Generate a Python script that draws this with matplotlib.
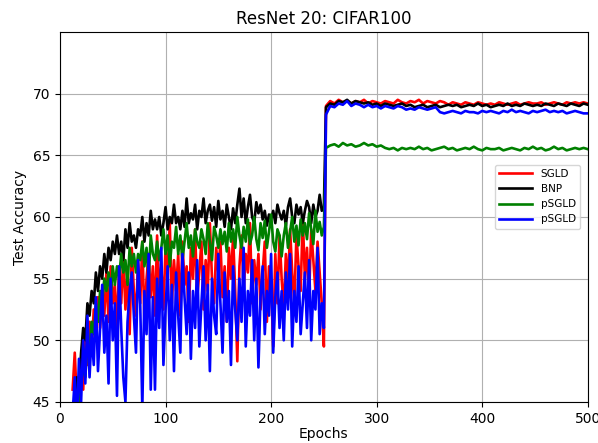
import numpy as np
import matplotlib
matplotlib.use("Agg")
import matplotlib.pyplot as plt

# epochs: every 2nd epoch before the step at 250, every 4th after
early_epochs = np.arange(12, 251, 2)
late_epochs = np.arange(252, 501, 4)

sgld_early = [46, 49, 45, 47, 48.5, 46, 50.5, 48, 51.5, 49,
              52.5, 50, 53.5, 51, 54, 52, 55.5, 51.5, 56, 53,
              54.5, 51, 56, 53, 57, 52.5, 55.5, 50.5, 57.5, 54,
              52, 56.5, 53, 58, 51.5, 55, 57, 53.5, 56, 52,
              58.5, 54, 56, 52.5, 57.5, 55, 59.5, 53, 56.5, 54,
              57, 52, 58, 54.5, 56, 51.5, 57.5, 55, 59, 53.5,
              55.5, 58, 52.5, 56.5, 54, 59.5, 55, 53, 57.5, 55.5,
              58, 53.5, 56, 51.5, 57.5, 55, 58.5, 54, 48.3, 56,
              58.5, 54, 57, 55.5, 59.5, 53, 56.5, 54.5, 57, 52.5,
              55.5, 58, 51.5, 56, 54.5, 49.5, 57, 53, 58.5, 55,
              52.5, 57, 54.5, 59, 55.5, 53, 58.5, 56, 54, 60,
              55, 57.5, 53.5, 59, 56.5, 54, 58, 55.5, 53, 49.5]
sgld_late = [69.0, 69.4, 69.2, 69.5, 69.3, 69.4, 69.2, 69.4, 69.3, 69.5,
             69.2, 69.4, 69.3, 69.2, 69.4, 69.3, 69.2, 69.5, 69.3, 69.2,
             69.4, 69.3, 69.5, 69.2, 69.4, 69.3, 69.2, 69.4, 69.3, 69.1,
             69.3, 69.2, 69.1, 69.3, 69.2, 69.1, 69.3, 69.2, 69.1, 69.2,
             69.1, 69.3, 69.2, 69.1, 69.2, 69.3, 69.1, 69.2, 69.3, 69.2,
             69.2, 69.3, 69.1, 69.2, 69.3, 69.2, 69.1, 69.3, 69.2, 69.3,
             69.2, 69.3, 69.2]

bnp_early = [44, 45.5, 47, 46, 49, 51, 50, 53, 52, 54,
             53, 55.5, 54, 56, 55, 57, 55.5, 57.5, 56.5, 58,
             57, 58.5, 57, 58, 56.5, 59, 57.5, 59.5, 58, 58.5,
             57.5, 59, 58.5, 60, 58, 59.5, 58.5, 60.5, 59, 59.8,
             59, 60, 58.5, 59.5, 60.8, 59, 60, 59.5, 61, 59.5,
             60, 59, 60.5, 59.2, 61.5, 59.5, 60.3, 59.8, 61, 59,
             60.5, 60, 61.5, 59.5, 60.5, 61, 59.7, 60.8, 59.2, 61.3,
             59.8, 60.5, 59.2, 61, 60, 59, 60.7, 59.5, 61, 62.3,
             60, 61.5, 59.5, 60.8, 61.8, 60, 59.5, 61.2, 60.3, 61,
             59.8, 60.5, 59.3, 60.2, 59.8, 60.5, 59.5, 61, 60.3, 59.8,
             60.5, 59.3, 60.8, 61.5, 60, 59.5, 61, 60.2, 60.8, 59.5,
             60.5, 61.3, 60.8, 59.5, 61, 60, 60.5, 61.8, 60.5, 60.8]
bnp_late = [68.9, 69.2, 69.1, 69.4, 69.3, 69.5, 69.2, 69.4, 69.3, 69.2,
            69.3, 69.1, 69.2, 69.0, 69.2, 69.1, 69.0, 69.1, 69.2, 69.0,
            69.1, 68.9, 69.0, 69.1, 68.9, 69.0, 69.1, 68.9, 69.0, 69.1,
            69.0, 69.1, 68.9, 69.0, 69.1, 69.0, 69.2, 69.0, 69.1, 68.9,
            69.0, 69.1, 69.0, 69.2, 69.0, 69.1, 69.0, 69.2, 69.1, 69.0,
            69.1, 69.0, 69.2, 69.1, 69.0, 69.2, 69.1, 69.0, 69.2, 69.1,
            69.0, 69.2, 69.1]

psgld_g_early = [43, 44, 45.5, 44, 46.5, 48, 47, 50, 49, 51.5,
                 50.5, 53, 51.5, 54, 53, 55, 54, 55.5, 53.5, 56,
                 54.5, 56, 55, 57, 55.5, 56.5, 54.5, 57.5, 56, 57,
                 55.5, 57, 56.5, 58, 56, 57.5, 55, 58.5, 57, 56.5,
                 58, 56.5, 57.5, 59, 57, 58.5, 56, 58, 57.5, 59.2,
                 57, 58.5, 56.5, 58, 59.5, 57.5, 58.5, 56.8, 59, 58,
                 57.5, 59, 58.2, 57, 59.5, 58, 56.5, 59.2, 58.5, 57.5,
                 59, 57.8, 58.8, 57.2, 59.5, 58, 59, 57.5, 60, 58.5,
                 57.5, 59.2, 58, 59.8, 57.8, 58.5, 60, 58.2, 57.3, 59.5,
                 58.3, 59.7, 57.5, 58.8, 60.2, 58, 57.2, 59, 58.5, 56.8,
                 58.5, 59.5, 57.5, 58.8, 60, 58, 59.3, 57.7, 59.8, 58.5,
                 59.5, 58.2, 60.3, 59, 57.8, 60.5, 58.8, 59.6, 58.5, 59.2]
psgld_g_late = [65.6, 65.8, 65.9, 65.7, 66.0, 65.8, 65.9, 65.7, 65.8, 66.0,
                65.8, 65.9, 65.7, 65.8, 65.6, 65.5, 65.6, 65.4, 65.6, 65.5,
                65.6, 65.5, 65.7, 65.5, 65.6, 65.4, 65.5, 65.6, 65.7, 65.5,
                65.6, 65.4, 65.5, 65.6, 65.5, 65.7, 65.5, 65.4, 65.6, 65.5,
                65.5, 65.6, 65.4, 65.5, 65.6, 65.5, 65.4, 65.6, 65.5, 65.7,
                65.5, 65.6, 65.4, 65.5, 65.7, 65.5, 65.6, 65.4, 65.5, 65.6,
                65.5, 65.6, 65.5]

psgld_b_early = [44, 47, 43, 48.5, 45, 50, 46.5, 52, 47, 50.5,
                 48, 53.5, 47.5, 51, 54.5, 49, 52, 46.5, 55, 50,
                 53, 45.5, 56, 51, 47, 45, 51.5, 54, 55.5, 52,
                 49, 56.5, 53, 44.5, 54, 50.5, 57, 46, 53.5, 46,
                 55, 51, 57.5, 48, 52.5, 56, 50, 54.5, 47.5, 55.5,
                 52, 49, 57, 53.5, 50.5, 55.5, 48.5, 54, 51, 56.5,
                 49.5, 53, 56, 50, 54.5, 47.5, 55, 52, 50.5, 57,
                 53, 49, 55.5, 51.5, 54, 48, 56, 52.5, 50, 55,
                 51.5, 57.5, 49.5, 54, 52, 56.5, 50, 55, 47.8, 53.5,
                 56, 50.5, 54, 52, 57, 49, 53.5, 55.5, 51, 54,
                 50, 55.5, 52.5, 57, 49.5, 54, 51.5, 56, 50.5, 53,
                 55.5, 51, 56.5, 50, 54, 52.5, 57.5, 50.5, 53, 51]
psgld_b_late = [68.3, 69.0, 68.9, 69.2, 69.1, 69.4, 69.0, 69.2, 69.1, 68.9,
                69.1, 68.9, 69.0, 68.8, 69.0, 68.9, 68.8, 69.0, 68.9, 68.7,
                68.8, 68.7, 68.9, 68.8, 68.7, 68.8, 68.9, 68.5, 68.4, 68.5,
                68.6, 68.5, 68.4, 68.6, 68.5, 68.5, 68.4, 68.6, 68.5, 68.6,
                68.5, 68.4, 68.6, 68.5, 68.7, 68.5, 68.6, 68.5, 68.4, 68.6,
                68.5, 68.6, 68.7, 68.5, 68.6, 68.5, 68.6, 68.4, 68.5, 68.6,
                68.5, 68.4, 68.4]

epochs = np.concatenate([early_epochs, late_epochs])
series = [
    ("SGLD", "red", sgld_early + sgld_late),
    ("BNP", "black", bnp_early + bnp_late),
    ("pSGLD", "green", psgld_g_early + psgld_g_late),
    ("pSGLD", "blue", psgld_b_early + psgld_b_late),
]

fig = plt.figure(figsize=(5.98, 4.43), dpi=100)
ax = fig.add_axes([0.1003, 0.0926, 0.8826, 0.8352])

for label, color, vals in series:
    ax.plot(epochs, vals, color=color, linewidth=1.9, label=label)

ax.set_xlim(0, 500)
ax.set_ylim(45, 75)
ax.set_xticks([0, 100, 200, 300, 400, 500])
ax.set_yticks([45, 50, 55, 60, 65, 70])
ax.grid(True, color="#b0b0b0", linewidth=0.8)
ax.set_title("ResNet 20: CIFAR100", fontsize=12)
ax.set_xlabel("Epochs", fontsize=10, labelpad=1)
ax.set_ylabel("Test Accuracy", fontsize=10)
ax.tick_params(labelsize=10)
ax.legend(loc="center right", bbox_to_anchor=(0.995, 0.555), fontsize=7.5,
          handlelength=3.2, borderaxespad=0.5)

fig.savefig("out.png", dpi=100)
